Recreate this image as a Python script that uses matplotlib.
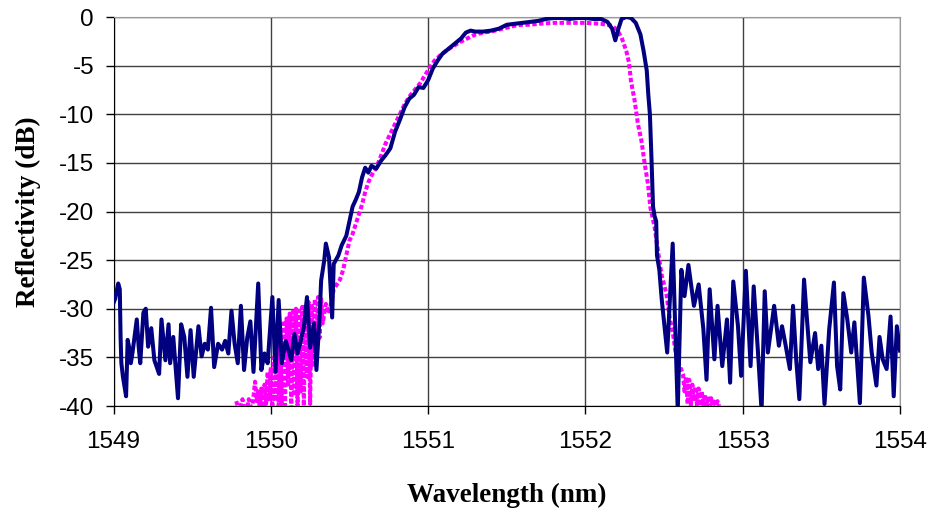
import matplotlib.pyplot as plt

# navy trace (solid)
blue_nm = [1549.00, 1549.01, 1549.03, 1549.04, 1549.045, 1549.05, 1549.06, 1549.08, 1549.09, 1549.10,
           1549.11, 1549.12, 1549.148, 1549.16, 1549.17, 1549.19, 1549.205, 1549.22, 1549.24, 1549.26,
           1549.29, 1549.305, 1549.33, 1549.35, 1549.36, 1549.38, 1549.41, 1549.43, 1549.45, 1549.47,
           1549.49, 1549.51, 1549.54, 1549.56, 1549.58, 1549.60, 1549.62, 1549.64, 1549.665, 1549.69,
           1549.71, 1549.73, 1549.75, 1549.77, 1549.79, 1549.81, 1549.83, 1549.85, 1549.87, 1549.89,
           1549.92, 1549.94, 1549.96, 1549.98, 1550.01, 1550.03, 1550.05, 1550.07, 1550.095, 1550.13,
           1550.15, 1550.17, 1550.19, 1550.21, 1550.23, 1550.25, 1550.275, 1550.29, 1550.31, 1550.32,
           1550.34, 1550.35, 1550.37, 1550.39, 1550.40, 1550.43, 1550.45, 1550.48, 1550.50, 1550.52,
           1550.54, 1550.56, 1550.58, 1550.60, 1550.62, 1550.64, 1550.67, 1550.70, 1550.73, 1550.76,
           1550.79, 1550.82, 1550.85, 1550.88, 1550.91, 1550.94, 1550.97, 1551.00, 1551.03, 1551.06,
           1551.09, 1551.12, 1551.15, 1551.18, 1551.21, 1551.24, 1551.27, 1551.30, 1551.35, 1551.40,
           1551.45, 1551.50, 1551.55, 1551.60, 1551.65, 1551.70, 1551.75, 1551.80, 1551.85, 1551.90,
           1551.95, 1552.00, 1552.05, 1552.10, 1552.14, 1552.17, 1552.19, 1552.21, 1552.23, 1552.26,
           1552.29, 1552.32, 1552.35, 1552.37, 1552.39, 1552.40, 1552.41, 1552.42, 1552.43, 1552.44,
           1552.45, 1552.455, 1552.47, 1552.485, 1552.52, 1552.555, 1552.587, 1552.61, 1552.63, 1552.655,
           1552.69, 1552.72, 1552.75, 1552.77, 1552.79, 1552.82, 1552.84, 1552.87, 1552.90, 1552.92,
           1552.94, 1552.97, 1552.99, 1553.02, 1553.05, 1553.07, 1553.10, 1553.12, 1553.14, 1553.16,
           1553.20, 1553.23, 1553.25, 1553.27, 1553.30, 1553.32, 1553.34, 1553.36, 1553.39, 1553.41,
           1553.43, 1553.46, 1553.48, 1553.50, 1553.52, 1553.55, 1553.58, 1553.60, 1553.62, 1553.64,
           1553.665, 1553.69, 1553.71, 1553.745, 1553.77, 1553.80, 1553.82, 1553.85, 1553.87, 1553.89,
           1553.915, 1553.94, 1553.96, 1553.98, 1554.00]
blue_db = [-29.4, -29.0, -27.4, -28.0, -32.9, -35.6, -37.0, -39.0, -33.2, -34.0,
           -35.6, -34.6, -31.1, -33.9, -35.6, -30.4, -30.0, -33.9, -32.0, -35.3,
           -36.7, -31.1, -35.3, -31.6, -35.6, -32.9, -39.2, -31.6, -32.9, -37.0,
           -32.2, -37.0, -31.8, -34.9, -33.6, -34.2, -29.9, -36.0, -33.6, -34.2,
           -33.3, -34.6, -30.2, -33.6, -35.6, -29.7, -36.3, -33.0, -31.3, -36.5,
           -27.4, -36.3, -34.6, -35.6, -28.8, -36.5, -29.1, -35.6, -33.3, -35.3,
           -32.6, -34.6, -33.3, -31.9, -28.8, -34.0, -31.5, -36.3, -30.9, -27.1,
           -25.0, -23.3, -24.7, -30.9, -25.4, -24.5, -23.5, -22.5, -21.0, -19.5,
           -18.8, -18.0, -16.5, -15.5, -16.0, -15.3, -15.6, -14.8, -14.2, -13.5,
           -11.8, -10.6, -9.3, -8.4, -8.0, -7.2, -7.3, -6.5, -5.3, -4.5,
           -3.8, -3.4, -3.0, -2.6, -2.2, -1.6, -1.4, -1.5, -1.5, -1.4,
           -1.2, -0.8, -0.7, -0.6, -0.5, -0.4, -0.2, -0.1, -0.1, -0.2,
           -0.1, -0.1, -0.2, -0.2, -0.5, -1.2, -2.4, -1.2, -0.2, 0.0,
           -0.1, -0.6, -1.8, -3.5, -5.5, -8.0, -10.0, -14.5, -19.5, -20.5,
           -21.0, -24.5, -26.0, -29.0, -34.5, -23.3, -40.5, -26.0, -28.7, -25.5,
           -29.7, -27.5, -32.1, -37.3, -28.0, -35.2, -29.7, -35.9, -31.1, -37.6,
           -27.2, -31.8, -36.9, -26.1, -35.9, -27.7, -35.2, -40.5, -28.2, -34.5,
           -29.7, -33.8, -31.8, -33.5, -36.2, -29.7, -35.2, -39.3, -27.0, -31.4,
           -35.5, -32.5, -36.2, -33.8, -39.8, -32.1, -27.3, -35.9, -38.3, -28.4,
           -31.1, -34.5, -31.4, -39.7, -26.8, -30.8, -34.5, -37.9, -32.9, -35.2,
           -36.2, -30.8, -39.0, -31.8, -34.3]

# magenta trace (dashed)
pink_nm = [1549.78, 1549.80, 1549.82, 1549.84, 1549.86, 1549.88, 1549.90, 1549.91, 1549.92, 1549.93,
           1549.94, 1549.95, 1549.96, 1549.97, 1549.98, 1549.99, 1550.00, 1550.01, 1550.02, 1550.03,
           1550.04, 1550.05, 1550.06, 1550.07, 1550.08, 1550.09, 1550.10, 1550.11, 1550.12, 1550.13,
           1550.14, 1550.15, 1550.16, 1550.17, 1550.18, 1550.19, 1550.20, 1550.21, 1550.22, 1550.23,
           1550.24, 1550.25, 1550.26, 1550.27, 1550.28, 1550.29, 1550.30, 1550.31, 1550.32, 1550.33,
           1550.35, 1550.37, 1550.40, 1550.42, 1550.44, 1550.46, 1550.48, 1550.50, 1550.52,
           1550.54, 1550.56, 1550.58, 1550.60, 1550.62, 1550.64, 1550.67, 1550.70, 1550.73, 1550.76,
           1550.79, 1550.82, 1550.85, 1550.88, 1550.91, 1550.95, 1550.98, 1551.01, 1551.04, 1551.08,
           1551.12, 1551.16, 1551.20, 1551.25, 1551.30, 1551.35, 1551.40, 1551.45, 1551.50, 1551.55,
           1551.60, 1551.65, 1551.70, 1551.80, 1551.90, 1552.00, 1552.10, 1552.17, 1552.20, 1552.23,
           1552.26, 1552.277, 1552.29, 1552.313, 1552.334, 1552.356, 1552.377, 1552.398, 1552.413, 1552.44,
           1552.461, 1552.483, 1552.515, 1552.536, 1552.557, 1552.578, 1552.62, 1552.63, 1552.64, 1552.65,
           1552.66, 1552.67, 1552.68, 1552.69, 1552.70, 1552.71, 1552.72, 1552.73, 1552.74, 1552.75,
           1552.76, 1552.77, 1552.78, 1552.79, 1552.80, 1552.81, 1552.82, 1552.83, 1552.84, 1552.85]
pink_db = [-39.5, -40.5, -39.3, -41.0, -39.3, -40.5, -37.5, -39.5, -38.5, -40.3,
           -38.2, -40.5, -37.8, -39.8, -36.5, -39.5, -36.0, -40.2, -35.0, -39.5,
           -33.5, -40.0, -32.5, -39.8, -31.5, -40.3, -31.0, -38.0, -30.5, -40.2,
           -30.3, -39.0, -30.0, -40.2, -30.2, -38.5, -29.8, -40.0, -29.6, -37.0,
           -29.3, -39.8, -29.5, -36.0, -29.0, -34.0, -28.8, -33.0, -29.0, -31.5,
           -29.5, -30.5, -28.0, -27.5, -27.0, -26.0, -24.5, -23.0, -22.3,
           -21.3, -20.3, -19.3, -18.0, -17.0, -16.3, -15.5, -14.3, -13.0, -12.0,
           -11.0, -10.0, -9.0, -8.2, -7.6, -6.8, -6.0, -5.2, -4.5, -3.9,
           -3.4, -3.0, -2.6, -2.2, -1.8, -1.6, -1.5, -1.3, -1.1, -0.9,
           -0.8, -0.8, -0.7, -0.6, -0.6, -0.6, -0.7, -0.9, -1.3, -2.1,
           -3.5, -4.7, -6.6, -8.6, -11.0, -12.7, -15.1, -17.2, -19.6, -21.6,
           -24.0, -26.4, -28.5, -30.9, -32.6, -35.0, -36.7, -38.5, -37.0, -39.8,
           -37.3, -40.0, -37.8, -39.5, -38.0, -40.0, -38.2, -40.0, -38.5, -40.0,
           -38.8, -40.0, -39.0, -40.0, -39.2, -40.0, -39.3, -40.0, -39.5, -40.0]

x_ticks = [1549, 1550, 1551, 1552, 1553, 1554]
y_ticks = [0, -5, -10, -15, -20, -25, -30, -35, -40]

fig = plt.figure(figsize=(9.35, 5.14), dpi=100)
ax = fig.add_axes([113.5/935, 1-406/514, (900-113.5)/935, (406-17)/514])

ax.plot(pink_nm, pink_db, color='#FF00FF', lw=2.9, linestyle=(0, (1.1, 0.6)),
        solid_capstyle='butt', zorder=3)
ax.plot(blue_nm, blue_db, color='#000080', lw=2.9, zorder=4)

ax.set_xlim(1549, 1554)
ax.set_ylim(-40, 0)
ax.set_xticks(x_ticks)
ax.set_xticklabels([str(v) for v in x_ticks])
ax.set_yticks(y_ticks)
ax.set_yticklabels([str(v) for v in y_ticks])
ax.tick_params(axis='x', direction='out', length=6, width=1, pad=12, labelsize=17.5)
ax.tick_params(axis='y', direction='out', length=6, width=1, pad=8, labelsize=17.5)
for lab in ax.get_xticklabels() + ax.get_yticklabels():
    lab.set_family('Liberation Sans')

ax.grid(True, color='#404040', linewidth=1)
ax.set_axisbelow(True)
ax.spines['top'].set_color('#999999')
ax.spines['right'].set_color('#999999')
ax.spines['left'].set_color('black')
ax.spines['bottom'].set_color('black')

fig.text(507/935, 1-495/514, 'Wavelength (nm)', ha='center', va='center',
         family='Liberation Serif', weight='bold', fontsize=19.5)
fig.text(28/935, 1-211.5/514, 'Reflectivity (dB)', ha='center', va='center', rotation=90,
         family='Liberation Serif', weight='bold', fontsize=19.5)

fig.savefig('out.png', dpi=100)
